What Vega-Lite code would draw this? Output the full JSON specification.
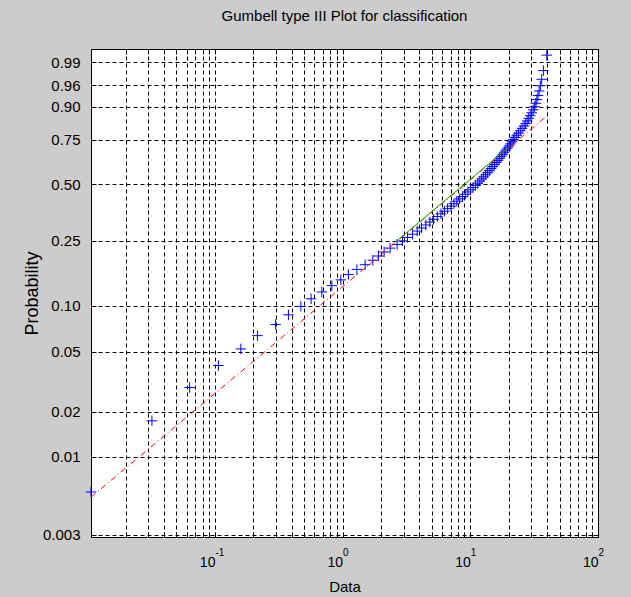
{
  "$schema": "https://vega.github.io/schema/vega-lite/v6.json",
  "width": 507,
  "height": 488,
  "autosize": {"type": "none"},
  "padding": {"left": 91, "top": 49, "right": 33, "bottom": 60},
  "background": "#cccccc",
  "title": {"text": "Gumbell type III Plot for classification", "fontSize": 15, "fontWeight": "normal", "font": "Liberation Sans", "color": "black", "anchor": "middle", "baseline": "alphabetic", "offset": 12},
  "config": {
    "view": {"fill": "white", "stroke": "black", "strokeWidth": 1},
    "axis": {"labelFont": "Liberation Sans", "titleFont": "Liberation Sans", "labelColor": "black", "titleColor": "black", "titleFontWeight": "normal", "tickColor": "black", "tickWidth": 1}
  },
  "layer": [
    {
      "data": {"values": [
        {"x": 0.0107, "p": 0.005814}, {"x": 0.0321, "p": 0.017442}, {"x": 0.0634, "p": 0.02907}, {"x": 0.1065, "p": 0.040698},
        {"x": 0.1595, "p": 0.052326}, {"x": 0.2152, "p": 0.063953}, {"x": 0.2987, "p": 0.075581}, {"x": 0.3763, "p": 0.087209},
        {"x": 0.4707, "p": 0.098837}, {"x": 0.5666, "p": 0.110465}, {"x": 0.6873, "p": 0.122093}, {"x": 0.8231, "p": 0.133721},
        {"x": 0.9681, "p": 0.145349}, {"x": 1.110, "p": 0.156977}, {"x": 1.292, "p": 0.168605}, {"x": 1.501, "p": 0.180233},
        {"x": 1.724, "p": 0.19186}, {"x": 1.907, "p": 0.203488}, {"x": 2.113, "p": 0.215116}, {"x": 2.355, "p": 0.226744},
        {"x": 2.672, "p": 0.238372}, {"x": 2.945, "p": 0.25}, {"x": 3.228, "p": 0.261628}, {"x": 3.527, "p": 0.273256},
        {"x": 3.839, "p": 0.284884}, {"x": 4.148, "p": 0.296512}, {"x": 4.482, "p": 0.30814}, {"x": 4.817, "p": 0.319767},
        {"x": 5.160, "p": 0.331395}, {"x": 5.515, "p": 0.343023}, {"x": 5.886, "p": 0.354651}, {"x": 6.269, "p": 0.366279},
        {"x": 6.641, "p": 0.377907}, {"x": 7.050, "p": 0.389535}, {"x": 7.440, "p": 0.401163}, {"x": 7.839, "p": 0.412791},
        {"x": 8.260, "p": 0.424419}, {"x": 8.687, "p": 0.436047}, {"x": 9.138, "p": 0.447674}, {"x": 9.577, "p": 0.459302},
        {"x": 10.04, "p": 0.47093}, {"x": 10.50, "p": 0.482558}, {"x": 10.96, "p": 0.494186}
      ]},
      "transform": [{"calculate": "log(-log(1-datum.p))", "as": "t"}],
      "mark": {"type": "point", "shape": "M-1,0L1,0M0,-1L0,1", "size": 110, "filled": false, "stroke": "#0000ff", "color": "#0000ff", "strokeWidth": 1, "opacity": 1},
      "encoding": {
        "x": {"field": "x", "type": "quantitative",
          "scale": {"type": "log", "domain": [0.0107, 100], "nice": false},
          "axis": {"orient": "bottom", "offset": -5, "values": [0.02,0.03,0.04,0.05,0.06,0.07,0.08,0.09,0.1,0.2,0.3,0.4,0.5,0.6,0.7,0.8,0.9,1,2,3,4,5,6,7,8,9,10,20,30,40,50,60,70,80,90,100],
            "grid": true, "gridColor": "black", "gridDash": [4, 3], "gridOpacity": 1, "gridWidth": 1,
            "labels": false, "ticks": true, "tickSize": 5, "domain": false, "title": null}},
        "y": {"field": "t", "type": "quantitative",
          "scale": {"domain": [-5.844, 1.734], "nice": false, "zero": false},
          "axis": {"orient": "left", "offset": -5, "values": [1.5272, 1.169, 0.834, 0.3266, -0.3665, -1.2459, -2.2504, -2.9702, -3.9019, -4.6002, -5.8077],
            "grid": true, "gridColor": "black", "gridDash": [4, 3], "gridOpacity": 1, "gridWidth": 1,
            "labelExpr": "1-exp(-exp(datum.value)) < 0.005 ? '0.003' : format(1-exp(-exp(datum.value)), '.2f')",
            "labelFontSize": 15, "labelPadding": 11, "ticks": true, "tickSize": 5, "domain": false,
            "title": "Probability", "titleFontSize": 18, "titleAngle": 270, "titleX": -64, "titleY": 244,
            "titleAlign": "center", "titleBaseline": "middle"}}
      }
    },
    {
      "data": {"values": [
        {"x": 11.45, "p": 0.505814},
        {"x": 11.87, "p": 0.517442}, {"x": 12.30, "p": 0.52907}, {"x": 12.73, "p": 0.540698}, {"x": 13.18, "p": 0.552326},
        {"x": 13.61, "p": 0.563953}, {"x": 14.09, "p": 0.575581}, {"x": 14.55, "p": 0.587209}, {"x": 15.01, "p": 0.598837},
        {"x": 15.47, "p": 0.610465}, {"x": 15.95, "p": 0.622093}, {"x": 16.45, "p": 0.633721}, {"x": 16.96, "p": 0.645349},
        {"x": 17.46, "p": 0.656977}, {"x": 17.97, "p": 0.668605}, {"x": 18.49, "p": 0.680233}, {"x": 19.00, "p": 0.69186},
        {"x": 19.56, "p": 0.703488}, {"x": 20.09, "p": 0.715116}, {"x": 20.64, "p": 0.726744}, {"x": 21.17, "p": 0.738372},
        {"x": 21.71, "p": 0.75}, {"x": 22.31, "p": 0.761628}, {"x": 23.09, "p": 0.773256}, {"x": 23.85, "p": 0.784884},
        {"x": 24.63, "p": 0.796512}, {"x": 25.44, "p": 0.80814}, {"x": 26.38, "p": 0.819767}, {"x": 27.15, "p": 0.831395},
        {"x": 27.90, "p": 0.843023}, {"x": 28.66, "p": 0.854651}, {"x": 29.45, "p": 0.866279}, {"x": 30.26, "p": 0.877907},
        {"x": 31.09, "p": 0.889535}, {"x": 31.88, "p": 0.901163}, {"x": 32.58, "p": 0.912791}, {"x": 33.23, "p": 0.924419},
        {"x": 33.89, "p": 0.936047}, {"x": 34.57, "p": 0.947674}, {"x": 35.39, "p": 0.959302}, {"x": 36.23, "p": 0.97093},
        {"x": 37.36, "p": 0.982558}, {"x": 39.72, "p": 0.994186}
      ]},
      "transform": [{"calculate": "log(-log(1-datum.p))", "as": "t"}],
      "mark": {"type": "point", "shape": "M-1,0L1,0M0,-1L0,1", "size": 110, "filled": false, "stroke": "#0000ff", "color": "#0000ff", "strokeWidth": 1, "opacity": 1},
      "encoding": {
        "x": {"field": "x", "type": "quantitative",
          "scale": {"type": "log", "domain": [0.0107, 100], "nice": false},
          "axis": {"orient": "top", "offset": -5, "values": [0.02,0.03,0.04,0.05,0.06,0.07,0.08,0.09,0.1,0.2,0.3,0.4,0.5,0.6,0.7,0.8,0.9,1,2,3,4,5,6,7,8,9,10,20,30,40,50,60,70,80,90,100],
            "grid": false, "labels": false, "ticks": true, "tickSize": 5, "domain": false, "title": null}},
        "y": {"field": "t", "type": "quantitative",
          "scale": {"domain": [-5.844, 1.734], "nice": false, "zero": false},
          "axis": {"orient": "right", "offset": -5, "values": [1.5272, 1.169, 0.834, 0.3266, -0.3665, -1.2459, -2.2504, -2.9702, -3.9019, -4.6002, -5.8077],
            "grid": false, "labels": false, "ticks": true, "tickSize": 5, "domain": false, "title": null}}
      }
    },
    {
      "data": {"values": [{"x": 0.0107, "p": 0.00537}, {"x": 39.72, "p": 0.8648}]},
      "transform": [{"calculate": "log(-log(1-datum.p))", "as": "t"}],
      "mark": {"type": "line", "color": "#ff0000", "strokeWidth": 1, "strokeDash": [6, 3, 1, 3]},
      "encoding": {
        "x": {"field": "x", "type": "quantitative",
          "scale": {"type": "log", "domain": [0.0107, 100], "nice": false},
          "axis": {"orient": "bottom", "values": [0.1, 1, 10, 100], "labelExpr": "'10'", "labelFontSize": 14, "labelAlign": "right", "labelDx": 4,
            "labelBaseline": "alphabetic", "labelPadding": 29, "labelFlush": false, "labelOverlap": false,
            "ticks": false, "domain": false, "grid": false,
            "title": "Data", "titleFontSize": 15, "titleY": 54, "titleBaseline": "alphabetic"}},
        "y": {"field": "t", "type": "quantitative",
          "scale": {"domain": [-5.844, 1.734], "nice": false, "zero": false}, "axis": null}
      }
    },
    {
      "data": {"values": [{"x": 2.577, "p": 0.2454}, {"x": 19.77, "p": 0.7062}]},
      "transform": [{"calculate": "log(-log(1-datum.p))", "as": "t"}],
      "mark": {"type": "line", "color": "#00b000", "strokeWidth": 1},
      "encoding": {
        "x": {"field": "x", "type": "quantitative",
          "scale": {"type": "log", "domain": [0.0107, 100], "nice": false},
          "axis": {"orient": "bottom", "values": [0.1, 1, 10, 100],
            "labelExpr": "datum.value < 0.5 ? '-1' : datum.value < 5 ? '0' : datum.value < 50 ? '1' : '2'",
            "labelFontSize": 10, "labelAlign": "left", "labelDx": 4,
            "labelBaseline": "alphabetic", "labelPadding": 18, "labelFlush": false, "labelOverlap": false,
            "ticks": false, "domain": false, "grid": false, "title": null}},
        "y": {"field": "t", "type": "quantitative",
          "scale": {"domain": [-5.844, 1.734], "nice": false, "zero": false}, "axis": null}
      }
    }
  ],
  "resolve": {"axis": {"x": "independent", "y": "independent"}}
}
